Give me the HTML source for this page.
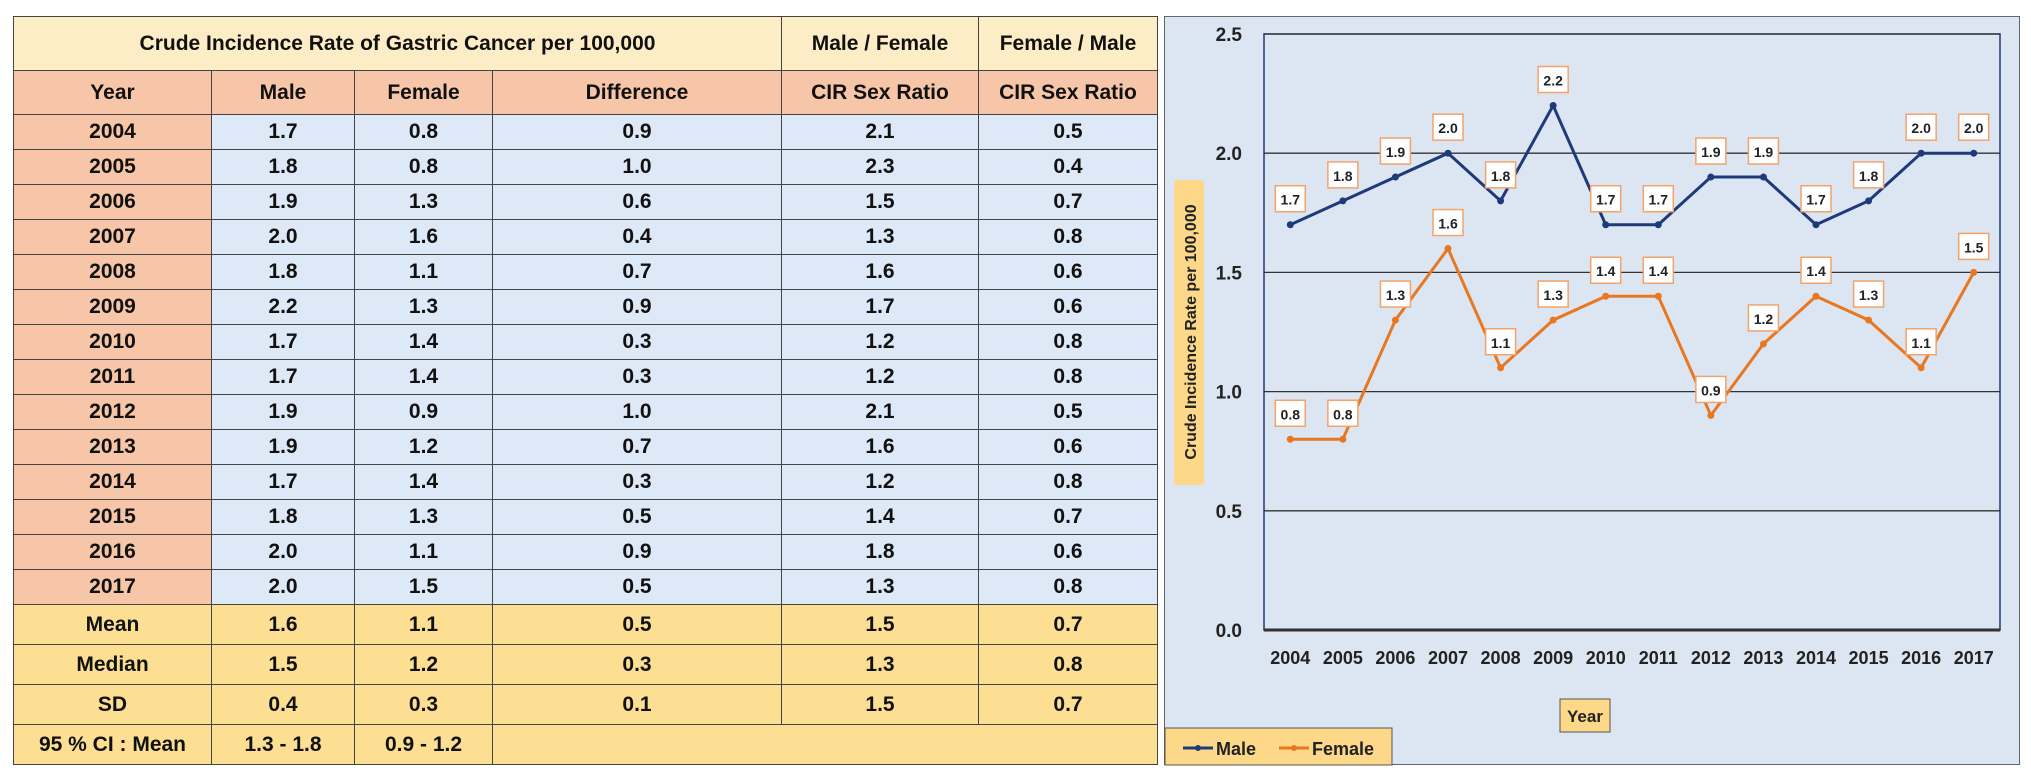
<!DOCTYPE html>
<html><head><meta charset="utf-8"><style>
body{margin:0;width:2031px;height:781px;background:#fff;position:relative;overflow:hidden;font-family:"Liberation Sans",sans-serif}
table{position:absolute;left:13px;top:16px;border-collapse:collapse;font-weight:bold;font-size:21px;color:#111}
td{border:1.5px solid #444;text-align:center;padding:0}
.h1{background:#fdedc6;height:54px}
.h2 td{background:#f7c6a8;height:43px}
.d td{background:#dde9f6;height:34px}
.d td:first-child{background:#f7c6a8}
.s td{background:#fcdf92;height:39px}
#chart{position:absolute;left:1164px;top:16px;width:856px;height:749px;background:#dce6f2;border:1.5px solid #666;box-sizing:border-box}
</style></head><body>
<table>
<colgroup><col style="width:198px"><col style="width:143px"><col style="width:138px"><col style="width:289px"><col style="width:197px"><col style="width:179px"></colgroup>
<tr class="h1"><td colspan="4">Crude Incidence Rate of Gastric Cancer per 100,000</td><td>Male / Female</td><td>Female / Male</td></tr>
<tr class="h2"><td>Year</td><td>Male</td><td>Female</td><td>Difference</td><td>CIR Sex Ratio</td><td>CIR Sex Ratio</td></tr>
<tbody id="tb"></tbody>
<tr class="s"><td>Mean</td><td>1.6</td><td>1.1</td><td>0.5</td><td>1.5</td><td>0.7</td></tr>
<tr class="s"><td>Median</td><td>1.5</td><td>1.2</td><td>0.3</td><td>1.3</td><td>0.8</td></tr>
<tr class="s"><td>SD</td><td>0.4</td><td>0.3</td><td>0.1</td><td>1.5</td><td>0.7</td></tr>
<tr class="s"><td>95 % CI : Mean</td><td>1.3 - 1.8</td><td>0.9 - 1.2</td><td colspan="3" style="border-right:1.5px solid #444"></td></tr>
</table>
<div id="chart"></div>
<svg id="svg" width="2031" height="781" style="position:absolute;left:0;top:0" font-family="Liberation Sans, sans-serif" font-weight="bold"></svg>
<script>
const years=[2004,2005,2006,2007,2008,2009,2010,2011,2012,2013,2014,2015,2016,2017];
const male=[1.7,1.8,1.9,2.0,1.8,2.2,1.7,1.7,1.9,1.9,1.7,1.8,2.0,2.0];
const female=[0.8,0.8,1.3,1.6,1.1,1.3,1.4,1.4,0.9,1.2,1.4,1.3,1.1,1.5];
const diff=[0.9,1.0,0.6,0.4,0.7,0.9,0.3,0.3,1.0,0.7,0.3,0.5,0.9,0.5];
const mfRatio=[2.1,2.3,1.5,1.3,1.6,1.7,1.2,1.2,2.1,1.6,1.2,1.4,1.8,1.3];
const fmRatio=[0.5,0.4,0.7,0.8,0.6,0.6,0.8,0.8,0.5,0.6,0.8,0.7,0.6,0.8];
const yTicks=[0,0.5,1.0,1.5,2.0,2.5];
const tb=document.getElementById('tb');
years.forEach((y,i)=>{const tr=document.createElement('tr');tr.className='d';


[y,male[i].toFixed(1),female[i].toFixed(1),diff[i].toFixed(1),mfRatio[i].toFixed(1),fmRatio[i].toFixed(1)].forEach(v=>{const td=document.createElement('td');td.textContent=v;tr.appendChild(td);});tb.appendChild(tr);});
const S=document.getElementById('svg'),NS='http://www.w3.org/2000/svg';
function el(t,a,txt){const e=document.createElementNS(NS,t);for(const k in a)e.setAttribute(k,a[k]);if(txt!=null)e.textContent=txt;S.appendChild(e);return e;}
const L=1264,R=2000,T=34,B=630;
const x=i=>L+(R-L)/years.length*(i+0.5);
const y=v=>B-(B-T)*v/2.5;
el('rect',{x:L,y:T,width:R-L,height:B-T,fill:'none',stroke:'#1f3a6e','stroke-width':1.5});
yTicks.forEach(t=>{const g=el('line',{x1:L,x2:R,y1:y(t),y2:y(t),stroke:'#333','stroke-width':t==0?3:1.3});


const tx=el('text',{x:1242,y:y(t)+7,'text-anchor':'end','font-size':19,fill:'#222'},t.toFixed(1));

});
years.forEach((yr,i)=>{const t=el('text',{x:x(i),y:664,'text-anchor':'middle','font-size':18,fill:'#222'},yr);

});
function series(vals,col,name){
const p=el('polyline',{points:vals.map((v,i)=>x(i)+','+y(v)).join(' '),fill:'none',stroke:col,'stroke-width':3});


vals.forEach((v,i)=>{const c=el('circle',{cx:x(i),cy:y(v),r:3.5,fill:col});


const bx=x(i)-15,by=y(v)-39;
const r=el('rect',{x:bx,y:by,width:30,height:26,fill:'#fff',stroke:'#f2a36b','stroke-width':1.5});


const t=el('text',{x:x(i),y:by+19,'text-anchor':'middle','font-size':14,fill:'#222'},v.toFixed(1));

});}
series(male,'#1f3a7a','male');
series(female,'#e87722','female');
const yb=el('rect',{x:1174,y:180,width:30,height:305,fill:'#fcd888',rx:3});


const yt=el('text',{x:0,y:0,transform:'translate(1196,332) rotate(-90)','text-anchor':'middle','font-size':16,fill:'#222'},'Crude Incidence Rate per 100,000');


const xb=el('rect',{x:1560,y:699,width:50,height:33,fill:'#fcd888',stroke:'#555'});


const xt=el('text',{x:1585,y:722,'text-anchor':'middle','font-size':17,fill:'#222'},'Year');


const lb=el('rect',{x:1165,y:728,width:227,height:37,fill:'#fcd888',stroke:'#555'});


[['Male','#1f3a7a',1183],['Female','#e87722',1279]].forEach(([n,c,lx])=>{
const l=el('line',{x1:lx,x2:lx+30,y1:748,y2:748,stroke:c,'stroke-width':3});


el('circle',{cx:lx+15,cy:748,r:3,fill:c});
const t=el('text',{x:lx+33,y:755,'font-size':18,fill:'#222'},n);

});
</script>
</body></html>
